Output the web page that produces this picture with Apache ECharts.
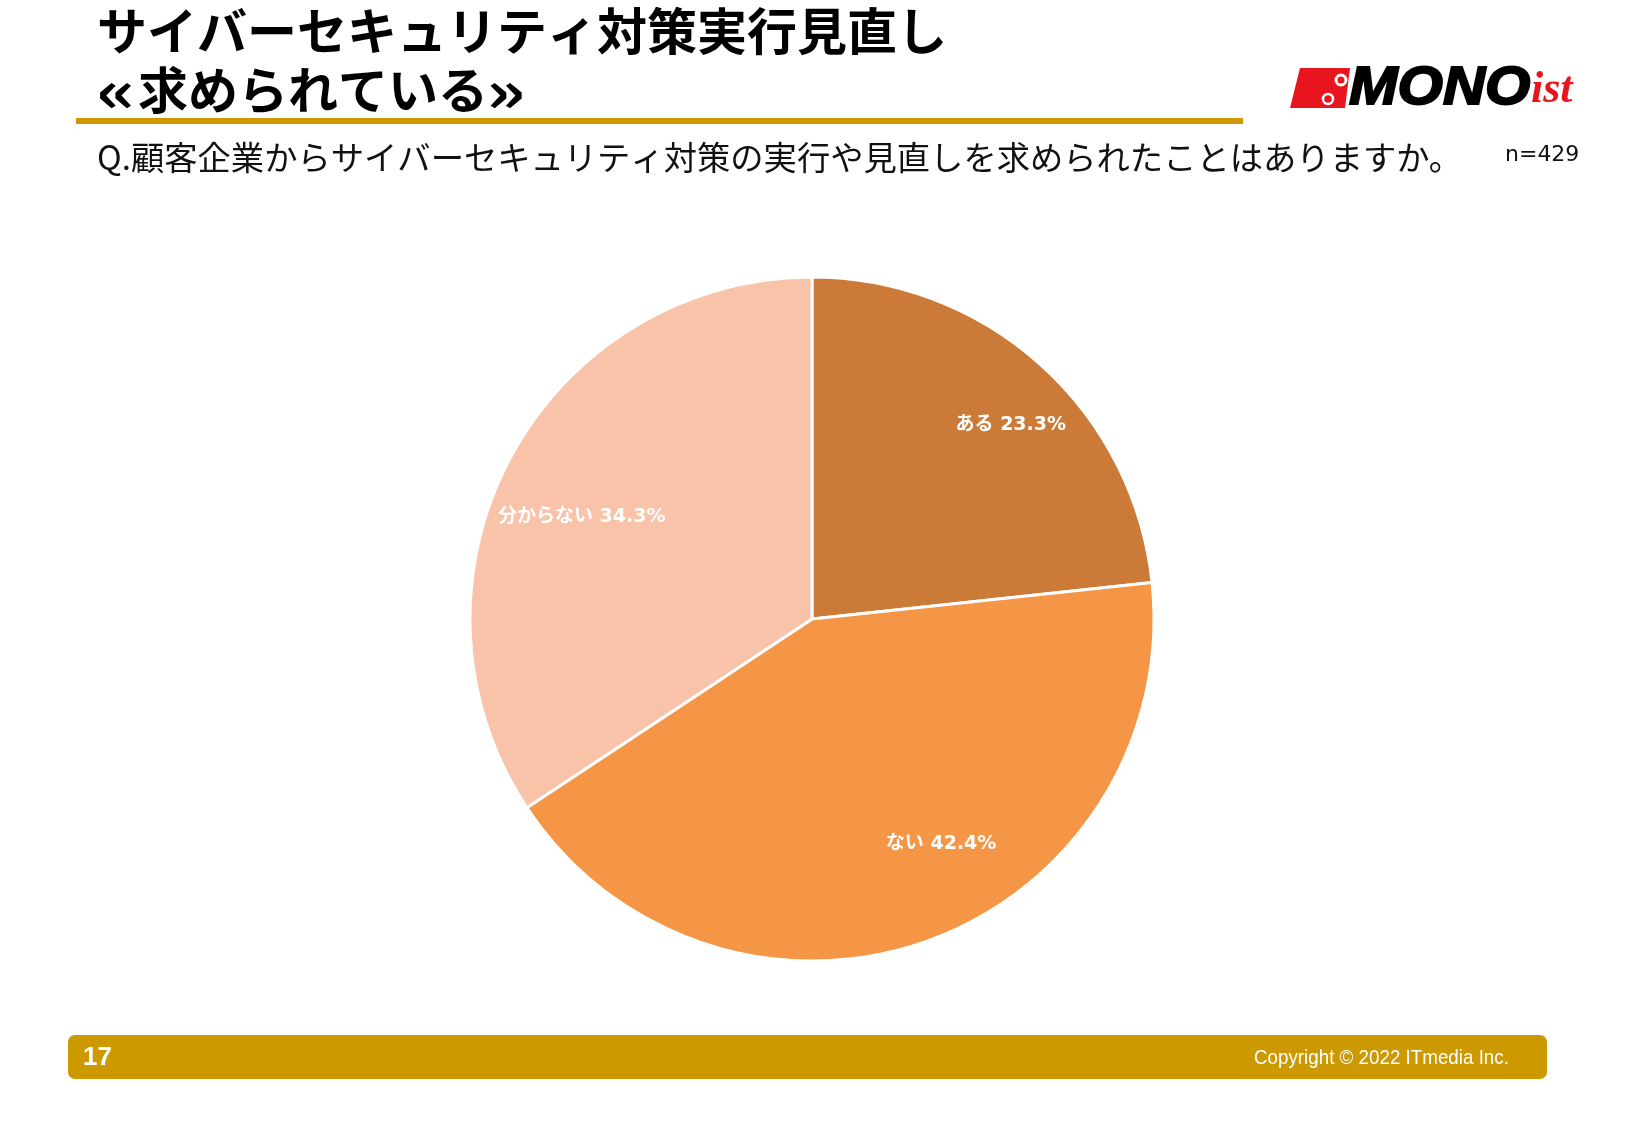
<!DOCTYPE html>
<html><head><meta charset="utf-8">
<script src="https://cdn.jsdelivr.net/npm/echarts@6/dist/echarts.min.js"></script>
<style>html,body{margin:0;padding:0;background:#fff}#c{width:1625px;height:1125px}</style>
</head><body><div id="c"></div>
<script>
var categories = ['ある', 'ない', '分からない'];
var values = [23.3, 42.4, 34.3];
var sliceColors = ['#CB7A38', '#F59646', '#F8C3A8'];
var titleLine1 = 'サイバーセキュリティ対策実行見直し';
var titleLine2 = '求められている';
var question = 'Q.顧客企業からサイバーセキュリティ対策の実行や見直しを求められたことはありますか。';
var sampleNote = 'n=429';
var pageNo = '17';
var copyright = 'Copyright © 2022 ITmedia Inc.';

// label nudges (style only, pixels) to mimic best-fit label placement
var labelNudge = [[21, 4], [39, -25], [4, 24]];

var pieData = categories.map(function (c, i) {
  return { name: c, value: values[i], itemStyle: { color: sliceColors[i] } };
});
var JP = '"Noto Sans CJK JP", "Noto Sans", sans-serif';
var chart = echarts.init(document.getElementById('c'), null, { renderer: 'canvas' });
var gold = '#CC9900';
var CX = 812, CY = 619, R = 342;
function titleText(x, txt, sx, sy) {
  return { type: 'text', x: x, y: 90, scaleX: sx || 1, scaleY: sy || 1,
    style: { text: txt, fontSize: 50, fontWeight: 'bold', fontFamily: JP, fill: '#000', textVerticalAlign: 'middle' } };
}
chart.setOption({
  backgroundColor: '#ffffff',
  animation: false,
  graphic: [
    { type: 'text', left: 97, top: 6, style: { text: titleLine1, fontSize: 50, fontWeight: 'bold', fontFamily: JP, fill: '#000' } },
    titleText(96, '«', 1.5, 1.15),
    titleText(138, titleLine2),
    titleText(486, '»', 1.5, 1.15),
    { type: 'rect', shape: { x: 76, y: 118, width: 1167, height: 6 }, style: { fill: gold } },
    { type: 'text', left: 97, top: 141, style: { text: question, fontSize: 33.3, fontFamily: JP, fill: '#111' } },
    { type: 'text', left: 1505, top: 144, style: { text: sampleNote, fontSize: 22, fontFamily: '"DejaVu Sans", sans-serif', fill: '#111' } },
    // logo
    { type: 'polygon', shape: { points: [[1300, 68], [1350, 68], [1345, 108], [1290, 108]] }, style: { fill: '#E8141E' } },
    { type: 'circle', shape: { cx: 1341, cy: 80, r: 5 }, style: { fill: '#E8141E', stroke: '#fff', lineWidth: 3 } },
    { type: 'circle', shape: { cx: 1328, cy: 99, r: 5 }, style: { fill: '#E8141E', stroke: '#fff', lineWidth: 2.5 } },
    { type: 'text', x: 1349, y: 89, scaleX: 1.08, style: { text: 'MONO', font: 'italic bold 54px "Liberation Sans", Arial, sans-serif', fill: '#000', stroke: '#000', lineWidth: 2, textVerticalAlign: 'middle' } },
    { type: 'text', x: 1531, y: 91, style: { text: 'ist', font: 'italic bold 44px "Liberation Serif", serif', fill: '#E8141E', textVerticalAlign: 'middle' } },
    // footer
    { type: 'rect', shape: { x: 68, y: 1035, width: 1479, height: 44, r: 7 }, style: { fill: gold } },
    { type: 'text', x: 83, y: 1058, style: { text: pageNo, font: 'bold 26px "Liberation Sans", Arial, sans-serif', fill: '#fff', textVerticalAlign: 'middle' } },
    { type: 'text', x: 1254, y: 1058, scaleX: 0.894, style: { text: copyright, font: '21px "Liberation Sans", Arial, sans-serif', fill: '#fff', textVerticalAlign: 'middle' } }
  ],
  series: [
    {
      type: 'pie',
      center: [CX, CY],
      radius: [0, R],
      startAngle: 90,
      clockwise: true,
      silent: true,
      label: { show: false },
      labelLine: { show: false },
      itemStyle: { borderColor: '#fff', borderWidth: 3 },
      data: pieData
    },
    {
      type: 'pie',
      center: [CX, CY],
      radius: [184, R],
      startAngle: 90,
      clockwise: true,
      silent: true,
      z: 5,
      itemStyle: { color: 'rgba(0,0,0,0)', borderWidth: 0 },
      label: {
        show: true, position: 'inside', color: '#fff',
        fontFamily: '"DejaVu Sans", "Noto Sans CJK JP", sans-serif', fontWeight: 'bold', fontSize: 19,
        formatter: function (p) { return p.name + ' ' + p.value.toFixed(1) + '%'; }
      },
      labelLine: { show: false },
      labelLayout: function (p) { var n = labelNudge[p.dataIndex]; return { dx: n[0], dy: n[1] }; },
      data: categories.map(function (c, i) { return { name: c, value: values[i] }; })
    }
  ]
});
</script></body></html>
